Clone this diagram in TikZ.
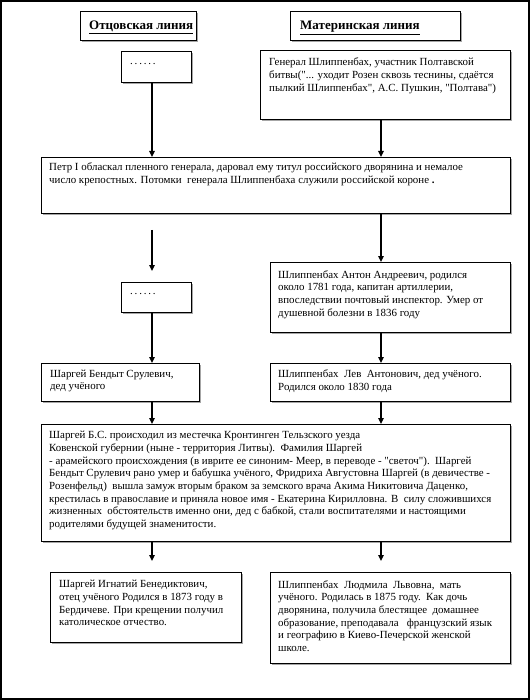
\documentclass[tikz,border=0pt]{standalone}
\usepackage{fontspec}
\setmainfont{Liberation Serif}
\usetikzlibrary{
    arrows.meta,
    positioning,
    shadows
}

\newcommand{\qt}{\textquotedbl}

\tikzset{
    famebox/.style={draw, line width=0.8pt, fill=white, anchor=north west,
        inner sep=0pt,
        drop shadow={shadow xshift=1.3pt, shadow yshift=-1.3pt, fill=black!35, opacity=1}},
    famtext/.style={anchor=north west, inner sep=0pt, align=left,
        font=\fontsize{10.9}{12.7}\selectfont},
    headtext/.style={anchor=north west, inner sep=0pt,
        font=\fontsize{13}{14}\selectfont\bfseries},
    link/.style={line width=1.4pt, -{Triangle[length=6pt,width=5.5pt]}}
}

\begin{document}
\begin{tikzpicture}[x=1pt,y=-1pt]

\useasboundingbox (0,0) rectangle (531,700);

% Frame
\draw[line width=1.4pt] (1,1) rectangle (529,699);

% Columns
\coordinate (lcol) at (152,0);
\coordinate (rcol) at (381,0);

% Headers
\node[famebox, minimum width=116, minimum height=29] (fathers) at (80,11) {};
\node[headtext, below right=10pt and 9pt of fathers.north west] (fathers text) {\underline{Отцовская линия}};
\node[famebox, minimum width=170, minimum height=29] (mothers) at (290,11) {};
\node[headtext, below right=10pt and 10pt of mothers.north west] (mothers text) {\underline{Материнская линия}};

% First generation
\node[famebox, minimum width=70, minimum height=31] (dots1) at (121,51) {};
\node[famtext, below right=12pt and 9pt of dots1.north west] (dots1 text) {.\,.\,.\,.\,.\,.};
\node[famebox, minimum width=250, minimum height=69] (general) at (260,50) {};
\node[famtext, below right=8pt and 9pt of general.north west] (general text) {Генерал Шлиппенбах, участник Полтавской\\
битвы(\qt... уходит Розен сквозь теснины, сдаётся\\
пылкий Шлиппенбах\qt, А.С. Пушкин, \qt Полтава\qt)};

% Peter I
\node[famebox, minimum width=469, minimum height=56] (peter) at (41,157) {};
\node[famtext, below right=5.5pt and 8pt of peter.north west] (peter text) {Петр I обласкал пленного генерала, даровал ему титул российского дворянина и немалое\\
число крепостных. Потомки\ \ генерала Шлиппенбаха служили российской короне \textbf{.}};

% Second generation
\coordinate (free top) at (152,230);
\coordinate (free tip) at (152,271);
\node[famebox, minimum width=70, minimum height=30] (dots2) at (121,282) {};
\node[famtext, below right=11pt and 9pt of dots2.north west] (dots2 text) {.\,.\,.\,.\,.\,.};
\node[famebox, minimum width=240, minimum height=70] (anton) at (270,262) {};
\node[famtext, below right=8pt and 8pt of anton.north west] (anton text) {Шлиппенбах Антон Андреевич, родился\\
около 1781 года, капитан артиллерии,\\
впоследствии почтовый инспектор. Умер от\\
душевной болезни в 1836 году};

% Grandfathers
\node[famebox, minimum width=158, minimum height=38] (bendyt) at (41,363) {};
\node[famtext, below right=6.5pt and 9pt of bendyt.north west] (bendyt text) {Шаргей Бендыт Срулевич,\\
дед учёного};
\node[famebox, minimum width=240, minimum height=38] (lev) at (270,363) {};
\node[famtext, below right=6.5pt and 8pt of lev.north west] (lev text) {Шлиппенбах\ \ Лев\ \ Антонович, дед учёного.\\
Родился около 1830 года};

% Family story
\node[famebox, minimum width=469, minimum height=117] (story) at (41,424) {};
\node[famtext, below right=7pt and 8pt of story.north west] (story text) {Шаргей Б.С. происходил из местечка Кронтинген Тельзского уезда\\
Ковенской губернии (ныне - территория Литвы).\ \ Фамилия Шаргей\\
- арамейского происхождения (в иврите ее синоним- Меер, в переводе - \qt светоч\qt).\ \ Шаргей\\
Бендыт Срулевич рано умер и бабушка учёного, Фридриха Августовна Шаргей (в девичестве -\\
Розенфельд)\ \ вышла замуж вторым браком за земского врача Акима Никитовича Даценко,\\
крестилась в православие и приняла новое имя - Екатерина Кирилловна. В\ \ силу сложившихся\\
жизненных\ \ обстоятельств именно они, дед с бабкой, стали воспитателями и настоящими\\
родителями будущей знаменитости.};

% Parents
\coordinate (ignat tip) at (152,561);
\coordinate (lyuda tip) at (381,561);
\node[famebox, minimum width=191, minimum height=70] (ignat) at (50,572) {};
\node[famtext, below right=8pt and 9pt of ignat.north west] (ignat text) {Шаргей Игнатий Бенедиктович,\\
отец учёного Родился в 1873 году в\\
Бердичеве. При крещении получил\\
католическое отчество.};
\node[famebox, minimum width=240, minimum height=91] (lyuda) at (270,572) {};
\node[famtext, below right=8pt and 8pt of lyuda.north west] (lyuda text) {Шлиппенбах\ \ Людмила\ \ Львовна,\ \ мать\\
учёного. Родилась в 1875 году.\ \ Как дочь\\
дворянина, получила блестящее\ \ домашнее\\
образование, преподавала\ \ \ французский язык\\
и географию в Киево-Печерской женской\\
школе.};

% Arrows
\draw[link] (lcol |- dots1.south) -- (lcol |- peter.north);
\draw[link] (rcol |- general.south) -- (rcol |- peter.north);
\draw[link] (rcol |- peter.south) -- (rcol |- anton.north);
\draw[link] (free top) -- (free tip);
\draw[link] (lcol |- dots2.south) -- (lcol |- bendyt.north);
\draw[link] (rcol |- anton.south) -- (rcol |- lev.north);
\draw[link] (lcol |- bendyt.south) -- (lcol |- story.north);
\draw[link] (rcol |- lev.south) -- (rcol |- story.north);
\draw[link] (lcol |- story.south) -- (ignat tip);
\draw[link] (rcol |- story.south) -- (lyuda tip);

\end{tikzpicture}
\end{document}
